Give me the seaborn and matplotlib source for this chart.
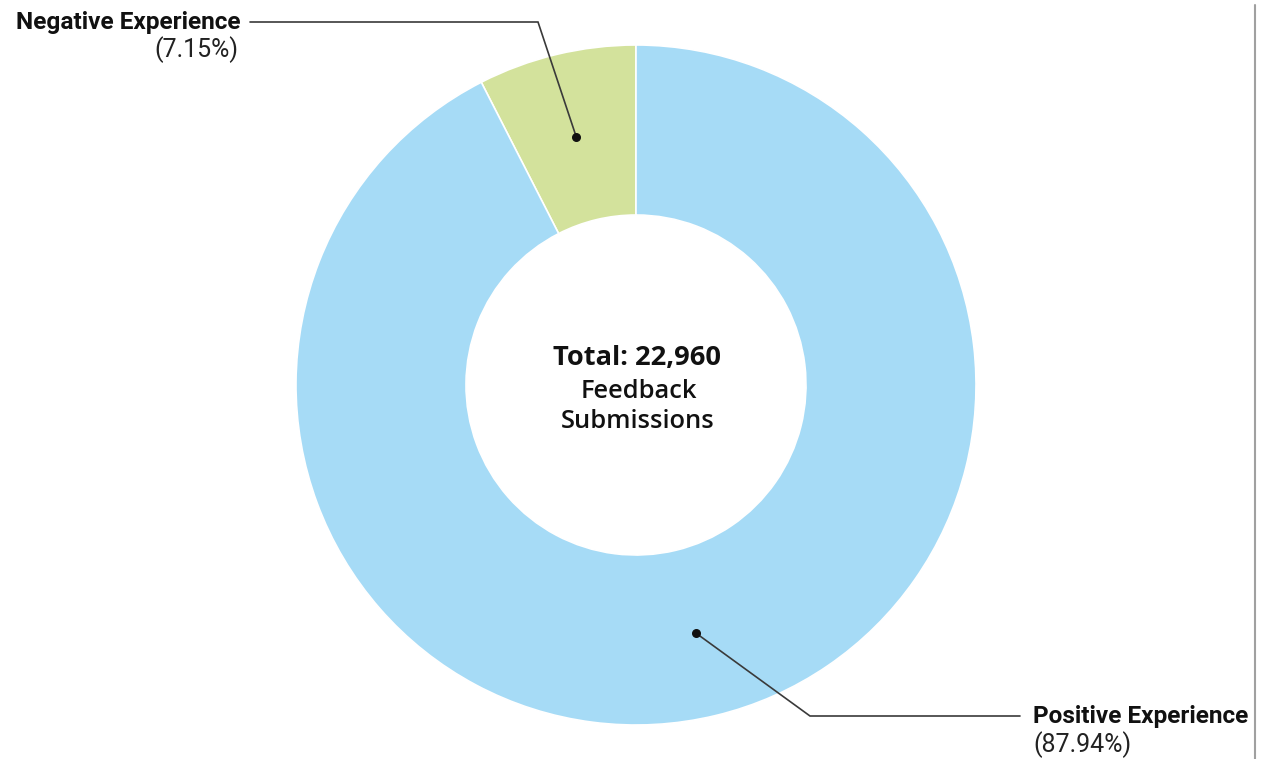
import numpy as np
import seaborn as sns
from matplotlib import pyplot as plt
from matplotlib.lines import Line2D

# feedback split (percent of all submissions)
labels = ["Negative Experience", "Positive Experience"]
shares = [7.15, 87.94]
total = 22960

colors = ["#d3e29c", "#a6dbf6"]

sns.set_theme(style="white")
plt.rcParams['font.family'] = ['Roboto', 'DejaVu Sans']

W, H = 1262, 759
fig = plt.figure(figsize=(W / 100, H / 100), dpi=100)
ax = fig.add_axes([0, 0, 1, 1])

cx, cy = 636, H - 385
r_out = 340
ring = 0.5

wedges, _ = ax.pie(shares, colors=colors, startangle=90, counterclock=True,
                   radius=r_out, center=(cx, cy),
                   wedgeprops=dict(width=r_out * ring, edgecolor="white", linewidth=1.2))

ax.set_xlim(0, W)
ax.set_ylim(0, H)
ax.set_aspect("equal")
ax.axis("off")

# leader lines: dot at the middle of each ring segment, elbow, then horizontal run
r_mid = r_out * (1 - ring / 2)
elbows = [[(538, H - 22), (250, H - 22)], [(810, H - 716), (1020, H - 716)]]
for w, pts in zip(wedges, elbows):
    ang = np.deg2rad((w.theta1 + w.theta2) / 2)
    px, py = cx + r_mid * np.cos(ang), cy + r_mid * np.sin(ang)
    xs = [px] + [p[0] for p in pts]
    ys = [py] + [p[1] for p in pts]
    ax.plot(xs, ys, color="#3a3a3a", lw=1.2, solid_joinstyle="miter")
    ax.scatter([px], [py], s=30, color="#111111", zorder=5)

# outer labels
ax.text(240, H - 22, labels[0], ha="right", va="center", fontsize=17.6, fontweight="bold", color="#111111")
ax.text(238, H - 50, f"({shares[0]:.2f}%)", ha="right", va="center", fontsize=18, color="#222222")
ax.text(1033, H - 716, labels[1], ha="left", va="center", fontsize=17.6, fontweight="bold", color="#111111")
ax.text(1033, H - 745, f"({shares[1]:.2f}%)", ha="left", va="center", fontsize=18, color="#222222")

# centre caption
ax.text(cx + 1, H - 358, f"Total: {total:,}", ha="center", va="center", fontsize=19.6,
        fontweight="bold", family=["Open Sans", "DejaVu Sans"], color="#111111")
ax.text(cx + 3, H - 392, "Feedback", ha="center", va="center", fontsize=18.4,
        fontweight="semibold", family=["Open Sans", "DejaVu Sans"], color="#111111")
ax.text(cx + 2, H - 422, "Submissions", ha="center", va="center", fontsize=18.4,
        fontweight="semibold", family=["Open Sans", "DejaVu Sans"], color="#111111")

# thin frame edge on the right side of the original screenshot
fig.add_artist(Line2D([1255 / W, 1255 / W], [0, 1 - 5 / H], color="#a0a0a0", lw=1.5))

fig.savefig("out.png", dpi=100)
